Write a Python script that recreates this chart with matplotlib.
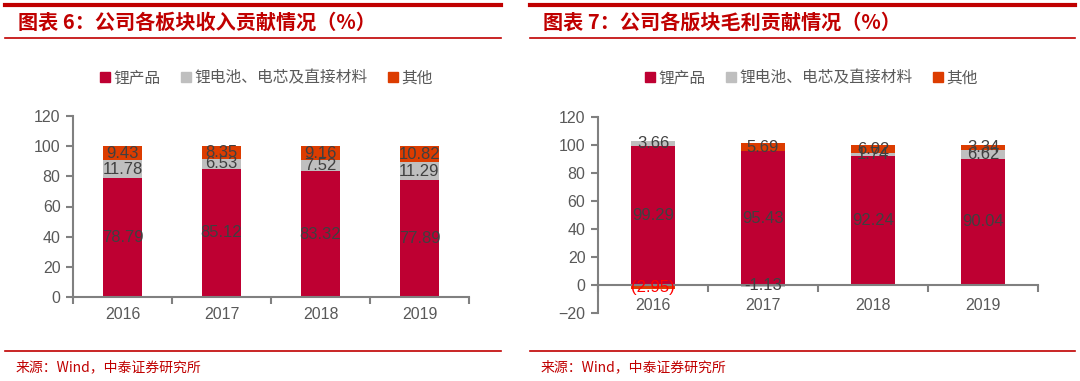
import matplotlib.pyplot as plt
from matplotlib.lines import Line2D
from matplotlib.patches import Patch
import numpy as np

plt.rcParams['font.family'] = ['Liberation Sans', 'Noto Sans CJK SC', 'DejaVu Sans']

years = ["2016", "2017", "2018", "2019"]
series_names = ["锂产品", "锂电池、电芯及直接材料", "其他"]

# 收入贡献 (%)
rev_li = [78.79, 85.12, 83.32, 77.89]
rev_bat = [11.78, 6.53, 7.52, 11.29]
rev_other = [9.43, 8.35, 9.16, 10.82]

# 毛利贡献 (%)
gp_li = [99.29, 95.43, 92.24, 90.04]
gp_bat = [3.66, -1.13, 1.74, 6.62]
gp_other = [-2.95, 5.69, 6.02, 3.34]

colors = ["#BE0032", "#BFBFBF", "#DC3C00"]
red = "#C00000"
gray = "#808080"
label_color = "#404040"

W, H = 1080, 381
fig = plt.figure(figsize=(W / 100, H / 100), dpi=100)


def px_axes(x0, y_top, x1, y_bot):
    return fig.add_axes([x0 / W, 1 - y_bot / H, (x1 - x0) / W, (y_bot - y_top) / H])


def hline(x0, x1, y, lw):
    fig.add_artist(Line2D([x0 / W, x1 / W], [1 - y / H, 1 - y / H], color=red, lw=lw,
                          transform=fig.transFigure))


def stacked(ax, data, neg_paren=False):
    x = np.arange(len(years))
    pos = np.zeros(len(years))
    neg = np.zeros(len(years))
    for vals, c in zip(data, colors):
        vals = np.array(vals)
        base = np.where(vals >= 0, pos, neg)
        ax.bar(x, vals, 0.4, bottom=base, color=c, zorder=2)
        for xi, b, v in zip(x, base, vals):
            if neg_paren and v < 0 and c == colors[2]:
                txt, col = "(%.2f)" % abs(v), "#FF0000"
            else:
                txt, col = "%.2f" % v, label_color
            ax.text(xi, b + v / 2, txt, ha="center", va="center", fontsize=12,
                    color=col, zorder=3)
        pos = np.where(vals >= 0, pos + vals, pos)
        neg = np.where(vals < 0, neg + vals, neg)


def style(ax, ylim, yticks):
    ax.set_xlim(-0.5, len(years) - 0.5)
    ax.set_ylim(*ylim)
    ax.set_yticks(yticks)
    ax.set_xticks(np.arange(-0.5, len(years)), minor=False)
    ax.set_xticklabels([])
    ax.set_xticks(np.arange(len(years)), minor=True)
    ax.set_xticklabels(years, minor=True)
    ax.tick_params(axis="x", which="minor", length=0, pad=7, labelsize=11.5,
                   labelcolor="#595959")
    ax.tick_params(axis="x", which="major", length=5, width=1.5, color=gray, direction="out")
    ax.tick_params(axis="y", length=5, width=1.5, color=gray, labelsize=11.5,
                   labelcolor="#595959", pad=4)
    for s in ["top", "right"]:
        ax.spines[s].set_visible(False)
    for s in ["left", "bottom"]:
        ax.spines[s].set_color(gray)
        ax.spines[s].set_linewidth(1.5)


# left chart
ax1 = px_axes(73, 116, 469, 297)
stacked(ax1, [rev_li, rev_bat, rev_other])
style(ax1, (0, 120), range(0, 121, 20))

# right chart
ax2 = px_axes(598, 117, 1038, 313)
stacked(ax2, [gp_li, gp_bat, gp_other], neg_paren=True)
style(ax2, (-20, 120), range(-20, 121, 20))
ax2.spines["bottom"].set_position(("data", 0))
ax2.tick_params(axis="x", which="minor", pad=9)

# legends
handles = [Patch(color=c) for c in colors]
for xl in (86, 631):
    fig.legend(handles, series_names, loc="center left",
               bbox_to_anchor=(xl / W, 1 - 78 / H), ncol=3, frameon=False,
               handlelength=0.6, handleheight=0.6, handletextpad=0.25, columnspacing=1.3,
               prop={"family": ["Noto Sans CJK SC"], "size": 11.3}, labelcolor="#595959")

# frames, titles, source
for x0, x1, num, title in [(5, 501, "6", "公司各板块收入贡献情况（%）"),
                           (530, 1075, "7", "公司各版块毛利贡献情况（%）")]:
    hline(x0, x1, 5, 3)
    hline(x0, x1, 38, 1.2)
    hline(x0, x1, 351, 1.2)
    fig.text((x0 + 13) / W, 1 - 22 / H, "图表 " + num + "：" + title, fontsize=14.5,
             color=red, weight="bold", va="center",
             family=["Noto Sans CJK SC", "DejaVu Sans"])
    fig.text((x0 + 11) / W, 1 - 367 / H, "来源：Wind，中泰证券研究所", fontsize=10,
             color=red, va="center", family=["Noto Sans CJK SC", "DejaVu Sans"])

fig.savefig("out.png", dpi=100)
